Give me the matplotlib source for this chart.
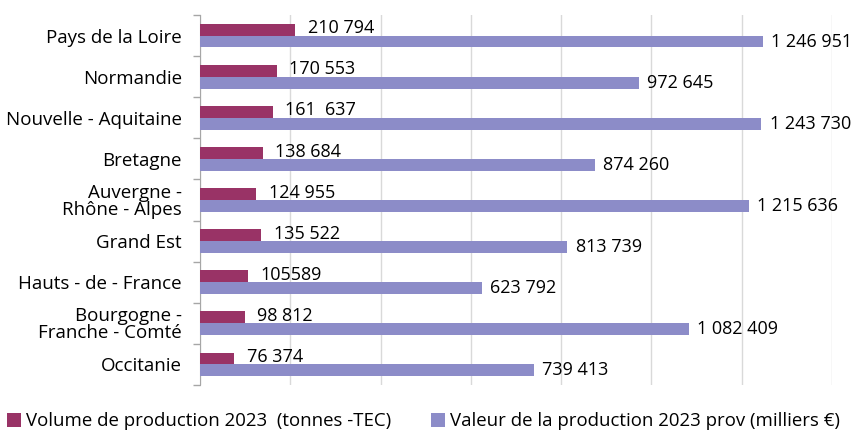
import matplotlib
matplotlib.use("Agg")
import matplotlib.pyplot as plt
import numpy as np
from matplotlib.patches import Patch

plt.rcParams["font.family"] = ["Open Sans", "DejaVu Sans"]

regions = [
    "Pays de la Loire",
    "Normandie",
    "Nouvelle - Aquitaine",
    "Bretagne",
    "Auvergne -\nRhône - Alpes",
    "Grand Est",
    "Hauts - de - France",
    "Bourgogne -\nFranche - Comté",
    "Occitanie",
]
volume = [210794, 170553, 161637, 138684, 124955, 135522, 105589, 98812, 76374]
valeur = [1246951, 972645, 1243730, 874260, 1215636, 813739, 623792, 1082409, 739413]
volume_labels = ["210 794", "170 553", "161  637", "138 684", "124 955",
                 "135 522", "105589", "98 812", "76 374"]
valeur_labels = ["1 246 951", "972 645", "1 243 730", "874 260", "1 215 636",
                 "813 739", "623 792", "1 082 409", "739 413"]

C_VOL = "#993366"
C_VAL = "#8c8cc8"

fig = plt.figure(figsize=(8.56, 4.33), dpi=100)
ax = fig.add_axes([200 / 856, 1 - 385 / 433, 632 / 856, 370 / 433])

y = np.arange(len(regions))
h = 0.29
ax.barh(y - h / 2, volume, height=h, color=C_VOL, zorder=3)
ax.barh(y + h / 2, valeur, height=h, color=C_VAL, zorder=3)

for yi, v, lab in zip(y, volume, volume_labels):
    ax.annotate(lab, (v, yi - h / 2), xytext=(9, 1), textcoords="offset points",
                ha="left", va="center", fontsize=13)
for yi, v, lab in zip(y, valeur, valeur_labels):
    ax.annotate(lab, (v, yi + h / 2), xytext=(6, 0), textcoords="offset points",
                ha="left", va="center", fontsize=13)

ax.set_xlim(0, 1400000)
ax.set_ylim(len(regions) - 0.5, -0.5)
ax.set_xticks(np.arange(0, 1400001, 200000))
ax.set_xticklabels([])
ax.tick_params(axis="x", length=0)
ax.grid(axis="x", color="#d9d9d9", linewidth=1, zorder=0)

ax.set_yticks(y)
ax.set_yticklabels(regions, fontsize=13.5, ha="right", linespacing=0.9)
ax.tick_params(axis="y", which="major", length=0, pad=13)
ax.set_yticks(np.arange(-0.5, len(regions)), minor=True)
ax.tick_params(axis="y", which="minor", length=5, width=1, color="#a6a6a6", direction="out")

for s in ["top", "right", "bottom"]:
    ax.spines[s].set_visible(False)
ax.spines["left"].set_color("#a6a6a6")

handles = [
    Patch(facecolor=C_VOL, label="Volume de production 2023  (tonnes -TEC)"),
    Patch(facecolor=C_VAL, label="Valeur de la production 2023 prov (milliers €)"),
]
fig.legend(handles=handles, loc="lower left", bbox_to_anchor=(-0.005, -0.02), ncol=2,
           frameon=False, fontsize=13.4, handlelength=0.75, handleheight=0.75,
           handletextpad=0.3, columnspacing=2.1, borderaxespad=0.2)

fig.savefig("out.png", dpi=100)
